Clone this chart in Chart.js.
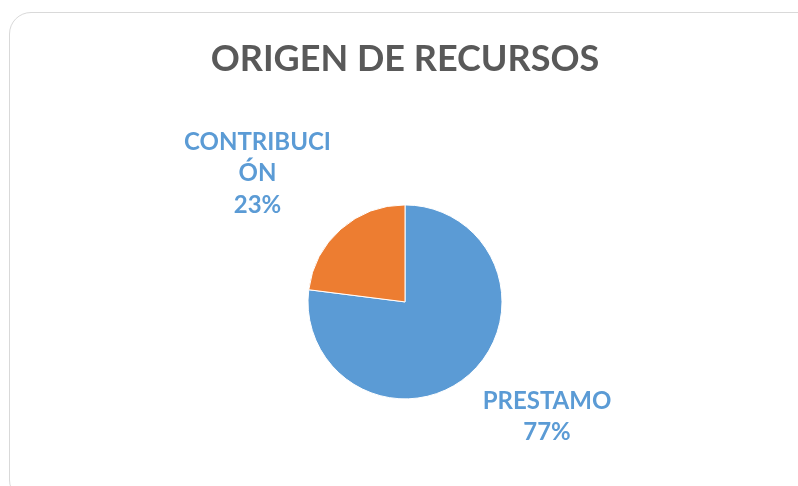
<!DOCTYPE html>
<html>
<head>
<meta charset="utf-8">
<script src="https://cdn.jsdelivr.net/npm/chart.js@4.4.1/dist/chart.umd.min.js"></script>
<style>
  html, body { margin: 0; padding: 0; background: #fff; }
  #wrap { position: relative; width: 798px; height: 486px; overflow: hidden; }
  #frame { position: absolute; left: 9px; top: 12px; width: 820px; height: 490px;
           border: 1.5px solid #d9d9d9; border-radius: 22px; box-sizing: border-box; }
  #c { position: absolute; left: 0; top: 0; }
</style>
</head>
<body>
<div id="wrap">
  <div id="frame"></div>
  <canvas id="c" width="798" height="486"></canvas>
</div>
<script>
const chartTitle = "ORIGEN DE RECURSOS";
const categories = ["PRESTAMO", "CONTRIBUCIÓN"];
const labelLines = [["PRESTAMO"], ["CONTRIBUCI", "ÓN"]];
const values = [77, 23];
const colors = ["#5B9BD5", "#ED7D31"];

// label placement relative to pie center (layout only)
const labelOffsets = [{dx: 142, dy: 107}, {dx: -147.5, dy: -152}];

const labelPlugin = {
  id: 'outsideLabels',
  afterDatasetsDraw(chart) {
    const ctx = chart.ctx;
    const meta = chart.getDatasetMeta(0);
    const total = values.reduce((a, b) => a + b, 0);
    ctx.save();
    ctx.font = "bold 24px Lato";
    ctx.fillStyle = "#5B9BD5";
    ctx.textAlign = "center";
    ctx.textBaseline = "alphabetic";
    meta.data.forEach((arc, i) => {
      const lines = labelLines[i].concat([Math.round(values[i] / total * 100) + "%"]);
      const x = arc.x + labelOffsets[i].dx;
      let y = arc.y + labelOffsets[i].dy;
      lines.forEach((ln, k) => {
        ctx.fillText(ln, x, y + k * 31.5);
      });
    });
    ctx.restore();
  }
};

new Chart(document.getElementById('c'), {
  type: 'pie',
  data: {
    labels: categories,
    datasets: [{
      data: values,
      backgroundColor: colors,
      borderColor: '#ffffff',
      borderWidth: 1,
      radius: 97
    }]
  },
  options: {
    responsive: false,
    animation: false,
    layout: { padding: { left: 12, right: 0, top: 0, bottom: 0 } },
    plugins: {
      legend: { display: false },
      tooltip: { enabled: false },
      title: {
        display: true,
        text: chartTitle,
        color: '#595959',
        font: { family: 'Lato', size: 36, weight: 'bold', lineHeight: 1.2 },
        padding: { top: 38, bottom: 36.6 }
      }
    }
  },
  plugins: [labelPlugin]
});
</script>
</body>
</html>
